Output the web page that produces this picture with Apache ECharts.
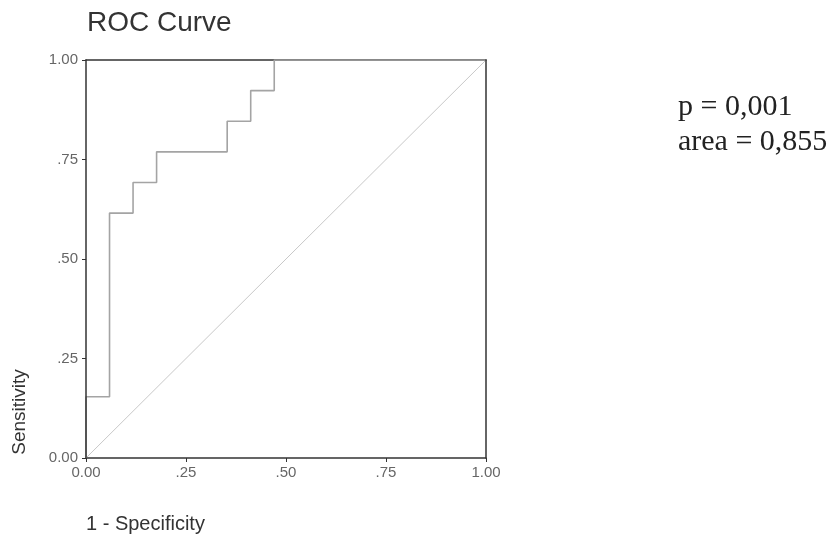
<!DOCTYPE html>
<html>
<head>
<meta charset="utf-8">
<style>
  html, body { margin: 0; padding: 0; background: #fff; }
  #chart { width: 834px; height: 538px; }
</style>
<script src="https://cdn.jsdelivr.net/npm/echarts@6/dist/echarts.min.js"></script>
</head>
<body>
<div id="chart"></div>
<script>
  // ROC step curve: 17 negatives, 13 positives
  var rocFpr = [0, 0, 1 / 17, 1 / 17, 2 / 17, 2 / 17, 3 / 17, 3 / 17, 6 / 17, 6 / 17, 7 / 17, 7 / 17, 8 / 17, 8 / 17, 1];
  var rocTpr = [0, 2 / 13, 2 / 13, 8 / 13, 8 / 13, 9 / 13, 9 / 13, 10 / 13, 10 / 13, 11 / 13, 11 / 13, 12 / 13, 12 / 13, 1, 1];
  var refX = [0, 1];
  var refY = [0, 1];
  var tickValues = [0, 0.25, 0.5, 0.75, 1];
  var tickLabels = ['0.00', '.25', '.50', '.75', '1.00'];
  var statLines = ['p = 0,001', 'area = 0,855'];

  function tickLabel(v) {
    for (var i = 0; i < tickValues.length; i++) {
      if (Math.abs(tickValues[i] - v) < 1e-9) return tickLabels[i];
    }
    return '';
  }

  function pairs(xs, ys) {
    return xs.map(function (x, i) { return [x, ys[i]]; });
  }

  var dark = '#333';
  var sans = 'Liberation Sans, Arial, sans-serif';
  var serif = 'Liberation Serif, Times New Roman, serif';

  var chart = echarts.init(document.getElementById('chart'), null, { renderer: 'canvas' });

  chart.setOption({
    backgroundColor: '#ffffff',
    animation: false,
    grid: { left: 86, top: 60, right: 348, bottom: 80, containLabel: false },
    xAxis: [
      {
        type: 'value', min: 0, max: 1, interval: 0.25, position: 'bottom',
        axisLine: { show: true, onZero: false, lineStyle: { color: dark, width: 1.5 } },
        axisTick: { show: true, length: 4, lineStyle: { color: dark } },
        axisLabel: { margin: 7, color: '#666', fontFamily: sans, fontSize: 15, formatter: tickLabel },
        splitLine: { show: false }
      },
      {
        // top frame; the ROC curve is drawn over it where it runs at 1.00
        type: 'value', min: 0, max: 1, position: 'top', z: 0,
        axisLine: { show: true, onZero: false, lineStyle: { color: dark, width: 1.5 } },
        axisTick: { show: false }, axisLabel: { show: false }, splitLine: { show: false }
      }
    ],
    yAxis: [
      {
        type: 'value', min: 0, max: 1, interval: 0.25, position: 'left', z: 5,
        axisLine: { show: true, onZero: false, lineStyle: { color: dark, width: 1.5 } },
        axisTick: { show: true, length: 4, lineStyle: { color: dark } },
        axisLabel: { margin: 8, color: '#666', fontFamily: sans, fontSize: 15, formatter: tickLabel },
        splitLine: { show: false }
      },
      {
        type: 'value', min: 0, max: 1, position: 'right', z: 5,
        axisLine: { show: true, onZero: false, lineStyle: { color: dark, width: 1.5 } },
        axisTick: { show: false }, axisLabel: { show: false }, splitLine: { show: false }
      }
    ],
    series: [
      {
        name: 'Reference', type: 'line', z: 2, symbol: 'none',
        lineStyle: { color: '#c8c8c8', width: 1 },
        data: pairs(refX, refY)
      },
      {
        name: 'ROC', type: 'line', z: 3, symbol: 'none',
        lineStyle: { color: '#a4a4a4', width: 1.6 },
        data: pairs(rocFpr, rocTpr)
      }
    ],
    graphic: [
      { type: 'text', left: 87, top: 9, style: { text: 'ROC Curve', font: '28px ' + sans, fill: '#333' } },
      { type: 'text', x: 20, y: 412, rotation: Math.PI / 2,
        style: { text: 'Sensitivity', font: '19px ' + sans, fill: '#333', align: 'center', verticalAlign: 'middle' } },
      { type: 'text', x: 86, y: 524,
        style: { text: '1 - Specificity', font: '20px ' + sans, fill: '#333', align: 'left', verticalAlign: 'middle' } },
      { type: 'text', x: 678, y: 107,
        style: { text: statLines[0], font: '30px ' + serif, fill: '#222', align: 'left', verticalAlign: 'middle' } },
      { type: 'text', x: 678, y: 142,
        style: { text: statLines[1], font: '30px ' + serif, fill: '#222', align: 'left', verticalAlign: 'middle' } }
    ]
  });
</script>
</body>
</html>
